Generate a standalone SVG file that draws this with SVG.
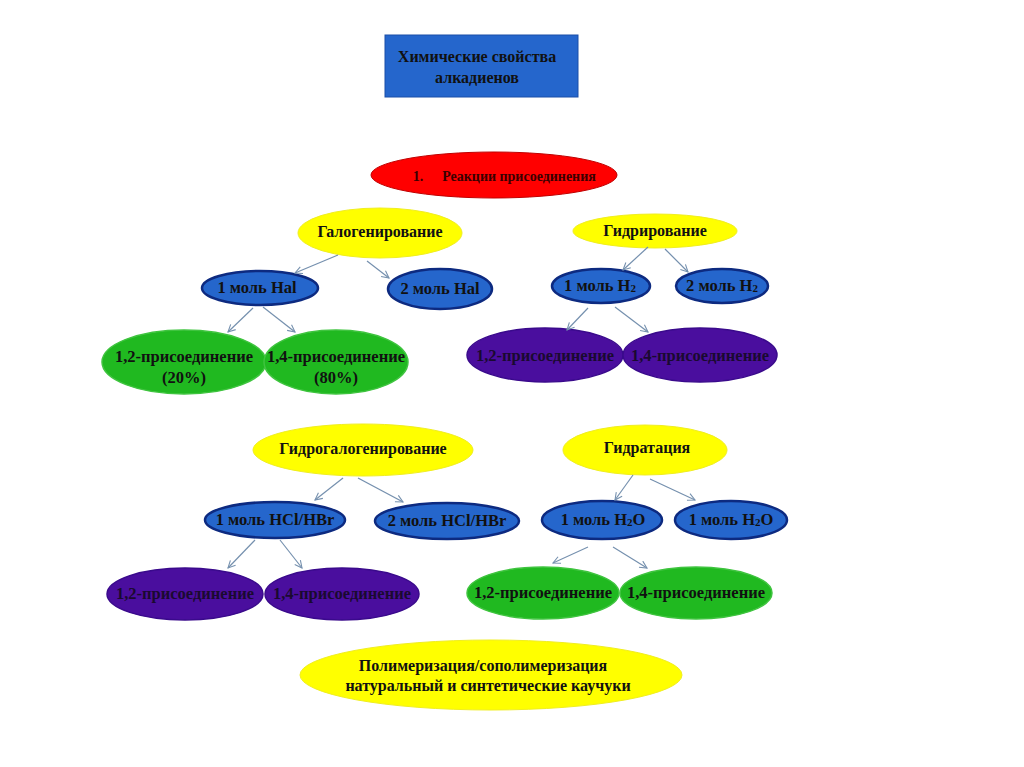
<svg xmlns="http://www.w3.org/2000/svg" width="1024" height="767" viewBox="0 0 1024 767">
<defs>
<marker id="ah" viewBox="0 0 10 10" refX="9" refY="5" markerWidth="9" markerHeight="9" orient="auto" markerUnits="userSpaceOnUse">
<path d="M1,1 L9,5 L1,9" fill="none" stroke="#7590ae" stroke-width="1.2"/>
</marker>
</defs>
<style>
text{font-family:"Liberation Serif","Times New Roman",serif;font-weight:bold;fill:#111;text-anchor:middle;dominant-baseline:central}
.t{font-size:16px}
.s{font-size:16.5px}
.blue{fill:#2566cc;stroke:#0d2a80;stroke-width:2.5}
.yel{fill:#ffff00;stroke:#f0ee20;stroke-width:1}
.grn{fill:#20b920;stroke:#3fc43f;stroke-width:1.5}
.pur{fill:#4a0e9e;stroke:#3a0a8c;stroke-width:1.5}
.red{fill:#ff0000;stroke:#c00000;stroke-width:1}
.pt{fill:#1a0a30}
.rt{fill:#3a0000;font-size:14px}
#connectors line{stroke:#7590ae;stroke-width:1.2;marker-end:url(#ah)}
</style>
<rect width="1024" height="767" fill="#ffffff"/>

<g id="title">
<rect x="385" y="35" width="193" height="62" fill="#2566cc" stroke="#1a4ea8" stroke-width="1"/>
<text x="477" y="56" font-size="16">Химические свойства</text>
<text x="477" y="77" font-size="16">алкадиенов</text>
</g>

<g id="n-addition">
<ellipse class="red" cx="494" cy="175" rx="123" ry="23"/>
<text class="rt" x="418" y="176">1.</text>
<text class="rt" x="519" y="176">Реакции присоединения</text>
</g>

<g id="n-halogen">
<ellipse class="yel" cx="380" cy="233" rx="82" ry="25"/>
<text class="t" x="380" y="231">Галогенирование</text>
</g>
<g id="n-hal1">
<ellipse class="blue" cx="260" cy="288" rx="58" ry="17"/>
<text class="s" x="257" y="287">1 моль Hal</text>
</g>
<g id="n-hal2">
<ellipse class="blue" cx="440" cy="289" rx="52" ry="20"/>
<text class="s" x="440" y="288">2 моль Hal</text>
</g>
<g id="n-hal12">
<ellipse class="grn" cx="184" cy="362" rx="82" ry="32"/>
<text class="s" x="184" y="356">1,2-присоединение</text>
<text class="s" x="184" y="377">(20%)</text>
</g>
<g id="n-hal14">
<ellipse class="grn" cx="336" cy="362" rx="72" ry="32"/>
<text class="s" x="336" y="356">1,4-присоединение</text>
<text class="s" x="336" y="377">(80%)</text>
</g>

<g id="n-hydrog">
<ellipse class="yel" cx="655" cy="231" rx="82" ry="17"/>
<text class="t" x="655" y="230">Гидрирование</text>
</g>
<g id="n-h2-1">
<ellipse class="blue" cx="601" cy="286" rx="49" ry="17"/>
<text class="s" x="600" y="285">1 моль H<tspan font-size="11" dy="3">2</tspan></text>
</g>
<g id="n-h2-2">
<ellipse class="blue" cx="722" cy="286" rx="46" ry="17"/>
<text class="s" x="722" y="285">2 моль H<tspan font-size="11" dy="3">2</tspan></text>
</g>
<g id="n-h2-12">
<ellipse class="pur" cx="545" cy="355" rx="78" ry="27"/>
<text class="s pt" x="545" y="355">1,2-присоединение</text>
</g>
<g id="n-h2-14">
<ellipse class="pur" cx="700" cy="355" rx="77" ry="27"/>
<text class="s pt" x="700" y="355">1,4-присоединение</text>
</g>

<g id="n-hydrohal">
<ellipse class="yel" cx="363" cy="450" rx="110" ry="26"/>
<text class="t" x="363" y="448">Гидрогалогенирование</text>
</g>
<g id="n-hx1">
<ellipse class="blue" cx="275" cy="520" rx="70" ry="18"/>
<text class="s" x="275" y="519">1 моль HCl/HBr</text>
</g>
<g id="n-hx2">
<ellipse class="blue" cx="447" cy="521" rx="72" ry="18"/>
<text class="s" x="447" y="520">2 моль HCl/HBr</text>
</g>
<g id="n-hx12">
<ellipse class="pur" cx="185" cy="594" rx="78" ry="26"/>
<text class="s pt" x="185" y="593">1,2-присоединение</text>
</g>
<g id="n-hx14">
<ellipse class="pur" cx="342" cy="594" rx="77" ry="26"/>
<text class="s pt" x="342" y="593">1,4-присоединение</text>
</g>

<g id="n-hydration">
<ellipse class="yel" cx="645" cy="450" rx="82" ry="25"/>
<text class="t" x="647" y="447">Гидратация</text>
</g>
<g id="n-h2o-1">
<ellipse class="blue" cx="602" cy="520" rx="60" ry="19"/>
<text class="s" x="603" y="519">1 моль H<tspan font-size="11" dy="3">2</tspan><tspan dy="-3">O</tspan></text>
</g>
<g id="n-h2o-2">
<ellipse class="blue" cx="731" cy="520" rx="56" ry="19"/>
<text class="s" x="731" y="519">1 моль H<tspan font-size="11" dy="3">2</tspan><tspan dy="-3">O</tspan></text>
</g>
<g id="n-h2o-12">
<ellipse class="grn" cx="543" cy="593" rx="76" ry="26"/>
<text class="s" x="543" y="592">1,2-присоединение</text>
</g>
<g id="n-h2o-14">
<ellipse class="grn" cx="696" cy="593" rx="76" ry="26"/>
<text class="s" x="696" y="592">1,4-присоединение</text>
</g>

<g id="n-polymer">
<ellipse class="yel" cx="491" cy="675" rx="191" ry="35"/>
<text class="t" x="483" y="665">Полимеризация/сополимеризация</text>
<text class="t" x="488" y="685">натуральный и синтетические каучуки</text>
</g>

<g id="connectors">
<line x1="338" y1="255" x2="295" y2="273"/>
<line x1="367" y1="261" x2="389" y2="278"/>
<line x1="253" y1="308" x2="228" y2="332"/>
<line x1="263" y1="307" x2="295" y2="332"/>
<line x1="648" y1="247" x2="623" y2="270"/>
<line x1="665" y1="249" x2="688" y2="272"/>
<line x1="588" y1="308" x2="567" y2="330"/>
<line x1="615" y1="307" x2="648" y2="332"/>
<line x1="343" y1="478" x2="315" y2="500"/>
<line x1="358" y1="478" x2="403" y2="502"/>
<line x1="255" y1="540" x2="228" y2="568"/>
<line x1="280" y1="540" x2="302" y2="568"/>
<line x1="633" y1="475" x2="615" y2="500"/>
<line x1="650" y1="479" x2="695" y2="500"/>
<line x1="588" y1="547" x2="553" y2="563"/>
<line x1="613" y1="547" x2="647" y2="568"/>
</g>
</svg>
